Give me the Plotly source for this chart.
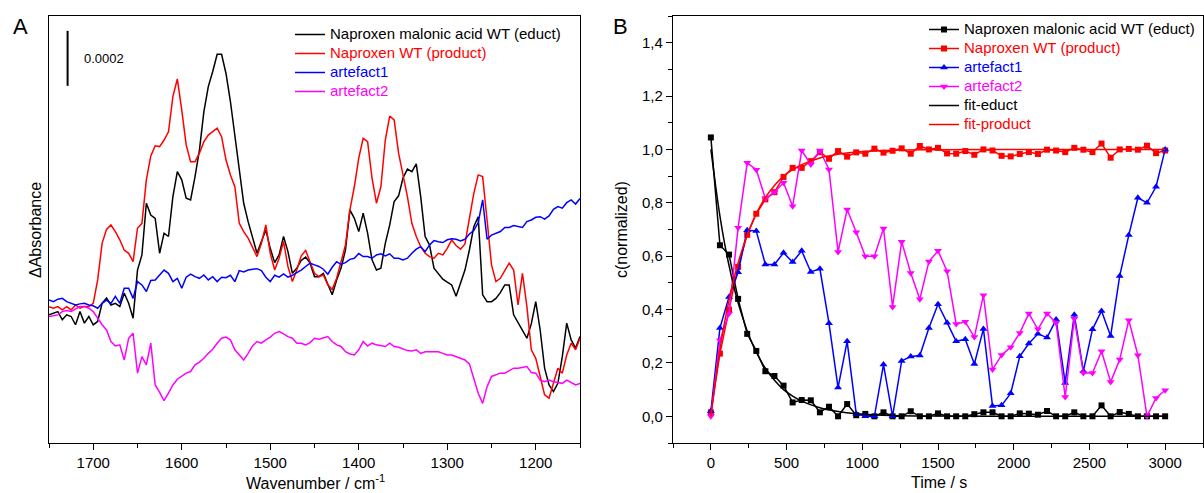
import plotly.graph_objects as go

W, H = 1204, 493
FONT = "Liberation Sans, Arial, sans-serif"

# ---------------- Panel A: difference spectra (units of 1e-4 absorbance) ----------------
wavenumber = [
    1750, 1745, 1740, 1735, 1730, 1725, 1720, 1715, 1710, 1705,
    1700, 1695, 1690, 1685, 1680, 1675, 1670, 1665, 1660, 1655,
    1650, 1645, 1640, 1635, 1630, 1625, 1620, 1615, 1610, 1605,
    1600, 1595, 1590, 1585, 1580, 1575, 1570, 1565, 1560, 1555,
    1550, 1545, 1540, 1535, 1530, 1525, 1520, 1515, 1510, 1505,
    1500, 1495, 1490, 1485, 1480, 1475, 1470, 1465, 1460, 1455,
    1450, 1445, 1440, 1435, 1430, 1425, 1420, 1415, 1410, 1405,
    1400, 1395, 1390, 1385, 1380, 1375, 1370, 1365, 1360, 1355,
    1350, 1345, 1340, 1335, 1330, 1325, 1320, 1315, 1310, 1305,
    1300, 1295, 1290, 1285, 1280, 1275, 1270, 1265, 1260, 1255,
    1250, 1245, 1240, 1235, 1230, 1225, 1220, 1215, 1210, 1205,
    1200, 1195, 1190, 1185, 1180, 1175, 1170, 1165, 1160, 1155,
    1150,
]

educt_spec = [
    -0.18, -0.12, -0.06, -0.36, -0.18, -0.24, -0.54, -0.06, -0.48, -0.24,
    -0.54, -0.42, 0.24, 0.43, 0.18, 0.24, 0.12, 0.61, 0.24, -0.3,
    1.45, 2.0, 3.88, 3.45, 3.33, 2.06, 2.79, 2.67, 4.12, 5.03,
    4.73, 4.06, 4.0, 4.85, 5.82, 7.21, 8.12, 8.67, 9.3, 9.3,
    8.6, 7.58, 6.3, 4.97, 3.88, 3.21, 2.67, 2.06, 2.49, 2.91,
    2.24, 1.72, 2.0, 2.67, 2.12, 1.33, 1.52, 1.8, 1.92, 1.7,
    1.21, 1.21, 1.33, 0.91, 0.55, 1.09, 1.52, 2.18, 3.64, 3.33,
    2.85, 3.52, 2.79, 1.82, 1.45, 1.52, 2.42, 3.09, 3.94, 4.15,
    4.8, 5.12, 5.03, 5.31, 4.12, 2.67, 2.36, 1.52, 1.33, 1.12,
    1.01, 0.91, 0.5, 0.97, 1.45, 2.18, 3.03, 3.39, 0.55, 0.3,
    0.3, 0.42, 0.63, 0.91, 0.91, -0.18, -0.46, -0.7, -1.03, -0.5,
    0.3, -0.73, -2.12, -2.73, -2.97, -2.67, -1.7, -0.48, -1.09, -1.39,
    -0.97,
]

product_spec = [
    0.12, 0.06, 0.12, 0.0, 0.12, 0.0, 0.18, 0.06, 0.12, 0.12,
    0.24, 1.09, 2.42, 2.93, 3.09, 2.85, 2.55, 2.18, 2.06, 1.76,
    2.97, 3.15, 4.73, 5.6, 5.97, 5.94, 6.18, 6.48, 7.76, 8.4,
    7.27, 6.0, 5.39, 5.39, 5.7, 6.12, 6.36, 6.48, 6.61, 6.3,
    5.45, 4.91, 4.48, 3.15, 2.85, 2.61, 2.3, 1.94, 2.42, 3.09,
    2.06, 1.45, 1.88, 2.49, 1.58, 1.03, 1.45, 1.97, 2.16, 1.76,
    1.33, 1.21, 1.27, 0.91, 0.75, 1.15, 1.76, 2.36, 3.64, 4.48,
    5.52, 6.24, 6.12, 4.79, 3.88, 4.48, 6.18, 7.05, 6.91, 5.7,
    4.91, 4.12, 3.15, 2.67, 2.3, 2.06, 1.94, 1.88, 2.06, 2.0,
    2.24, 2.55, 2.34, 2.21, 2.4, 3.27, 4.24, 4.91, 4.85, 3.27,
    1.64, 1.03, 1.15, 1.43, 1.7, 1.45, 0.18, 1.33, 0.12, -1.45,
    -1.76, -2.42, -3.09, -3.21, -2.67, -2.12, -2.3, -1.64, -1.21, -1.45,
    -1.03,
]

artefact1_spec = [
    0.36, 0.3, 0.39, 0.42, 0.3, 0.24, 0.18, 0.22, 0.24, 0.18,
    0.15, 0.06, 0.24, 0.36, 0.24, 0.49, 0.24, 0.79, 0.79, 0.42,
    1.03, 0.91, 0.67, 1.07, 1.09, 1.27, 1.45, 1.33, 1.03, 1.15,
    0.79, 1.19, 1.3, 1.21, 1.15, 1.27, 1.09, 1.21, 1.03, 1.19,
    1.17, 1.26, 1.03, 1.43, 1.38, 1.45, 1.48, 1.5, 1.43, 1.19,
    1.03, 1.26, 1.19, 1.31, 1.19, 1.26, 1.36, 1.45, 1.58, 1.7,
    1.64, 1.58, 1.48, 1.3, 1.55, 1.75, 1.66, 1.72, 1.84, 1.88,
    2.05, 1.94, 1.94, 1.88, 2.0, 2.04, 1.96, 2.04, 1.88, 1.88,
    1.82, 1.88, 2.06, 2.21, 2.3, 2.12, 2.36, 2.52, 2.48, 2.45,
    2.55, 2.59, 2.57, 2.51, 2.57, 2.76, 2.89, 3.18, 4.0, 2.57,
    2.72, 2.79, 2.85, 3.0, 3.0, 3.07, 3.03, 3.0, 3.21, 3.27,
    3.37, 3.39, 3.3, 3.42, 3.66, 3.76, 3.7, 3.9, 4.0, 3.85,
    4.05,
]

artefact2_spec = [
    -0.24, -0.22, -0.18, -0.06, -0.02, -0.06, 0.02, 0.12, 0.12, 0.06,
    -0.06, -0.3, -0.54, -0.73, -1.15, -1.31, -1.27, -1.82, -1.03, -0.85,
    -2.3, -1.7, -2.0, -1.21, -2.73, -3.0, -3.3, -3.03, -2.73, -2.52,
    -2.42, -2.3, -2.24, -2.0, -1.9, -1.76, -1.58, -1.43, -1.21, -1.03,
    -0.99, -1.09, -1.45, -1.64, -1.82, -1.58, -1.31, -1.15, -1.21, -1.09,
    -0.99, -0.85, -0.79, -0.87, -0.97, -1.03, -1.21, -1.21, -1.27, -1.19,
    -1.03, -1.07, -1.03, -0.97, -1.15, -1.27, -1.33, -1.52, -1.6, -1.64,
    -1.45, -1.15, -1.31, -1.21, -1.27, -1.31, -1.33, -1.21, -1.33, -1.36,
    -1.43, -1.48, -1.49, -1.45, -1.58, -1.52, -1.52, -1.52, -1.52, -1.58,
    -1.64, -1.64, -1.7, -1.76, -1.82, -1.96, -2.48, -3.03, -3.4, -2.79,
    -2.42, -2.36, -2.3, -2.3, -2.2, -2.12, -2.12, -2.08, -2.06, -2.28,
    -2.3, -2.55, -2.61, -2.55, -2.61, -2.64, -2.67, -2.55, -2.64, -2.73,
    -2.67,
]
SPEC_UNIT = 1e-4
SCALE_BAR = 0.0002

# ---------------- Panel B: kinetics ----------------
time_s = [
    0, 60, 120, 180, 240, 300, 360, 420, 480, 540,
    600, 660, 720, 780, 840, 900, 960, 1020, 1080, 1140,
    1200, 1260, 1320, 1380, 1440, 1500, 1560, 1620, 1680, 1740,
    1800, 1860, 1920, 1980, 2040, 2100, 2160, 2220, 2280, 2340,
    2400, 2460, 2520, 2580, 2640, 2700, 2760, 2820, 2880, 2940,
    3000,
]
educt_c = [
    1.045, 0.641, 0.606, 0.44, 0.309, 0.245, 0.169, 0.151, 0.115, 0.052,
    0.061, 0.06, 0.015, 0.036, 0.0, 0.046, 0.004, 0.009, 0.0, 0.015,
    0.0, 0.0, 0.019, 0.0, 0.0, 0.011, 0.0, 0.0, 0.0, 0.008,
    0.015, 0.015, 0.0, 0.0, 0.011, 0.01, 0.006, 0.02, 0.0, 0.0,
    0.015, 0.0, 0.0, 0.041, 0.0, 0.016, 0.009, 0.0, 0.0, 0.0,
    0.0,
]
product_c = [
    0.015, 0.235, 0.40, 0.56, 0.68, 0.759, 0.813, 0.84, 0.897, 0.931,
    0.931, 0.956, 0.99, 0.965, 0.994, 0.973, 0.989, 0.984, 1.003, 0.988,
    0.995, 1.004, 0.984, 1.013, 1.0, 1.006, 0.985, 0.984, 0.994, 0.98,
    1.0, 0.996, 0.976, 0.974, 0.983, 0.99, 0.983, 0.999, 0.996, 0.99,
    1.006, 0.999, 0.99, 1.022, 0.969, 1.0, 1.002, 0.999, 1.014, 0.986,
    0.996,
]
artefact1_c = [
    0.019, 0.331, 0.4475, 0.54, 0.6975, 0.694, 0.569, 0.569, 0.6125, 0.578,
    0.62, 0.541, 0.5525, 0.349, 0.1075, 0.281, 0.01, 0.0, 0.0, 0.194,
    0.0, 0.2075, 0.224, 0.2275, 0.331, 0.42, 0.351, 0.281, 0.289, 0.196,
    0.3275, 0.039, 0.041, 0.086, 0.225, 0.2725, 0.309, 0.295, 0.3625, 0.125,
    0.381, 0.169, 0.326, 0.395, 0.301, 0.526, 0.679, 0.819, 0.80, 0.86,
    1.0,
]
artefact2_c = [
    0.0, 0.285, 0.385, 0.707, 0.95, 0.924, 0.816, 0.84, 0.875, 0.787,
    0.996, 0.944, 0.996, 0.925, 0.616, 0.775, 0.69, 0.60, 0.60, 0.704,
    0.41, 0.654, 0.537, 0.439, 0.58, 0.62, 0.544, 0.346, 0.354, 0.297,
    0.454, 0.175, 0.23, 0.259, 0.3125, 0.385, 0.326, 0.385, 0.35, 0.072,
    0.366, 0.162, 0.162, 0.244, 0.129, 0.2125, 0.36, 0.229, 0.0, 0.069,
    0.0975,
]
fit_time = [0, 30, 60, 90, 120, 150, 180, 210, 240, 300, 360, 420, 480, 540,
            600, 720, 840, 960, 1200, 1500, 2000, 2500, 3000]
fit_educt = [1.0, 0.87, 0.75, 0.65, 0.565, 0.49, 0.425, 0.37, 0.32, 0.24, 0.18,
             0.135, 0.10, 0.076, 0.057, 0.032, 0.018, 0.010, 0.003, 0.001,
             0.0, 0.0, 0.0]
fit_product = [0.0, 0.13, 0.25, 0.35, 0.435, 0.51, 0.575, 0.63, 0.68, 0.76, 0.82,
               0.865, 0.90, 0.924, 0.943, 0.968, 0.982, 0.99, 0.997, 0.999,
               1.0, 1.0, 1.0]

BLACK, RED, BLUE, MAGENTA = "#000000", "#ff0000", "#0000ff", "#ff00ff"


def lab(text, color):
    return f'<span style="color:{color};font-size:15px">{text}</span>'


fig = go.Figure()

spectra = [
    ("Naproxen malonic acid WT (educt)", educt_spec, BLACK),
    ("Naproxen WT (product)", product_spec, RED),
    ("artefact1", artefact1_spec, BLUE),
    ("artefact2", artefact2_spec, MAGENTA),
]
for name, vals, color in spectra:
    fig.add_trace(go.Scatter(
        x=wavenumber, y=[v * SPEC_UNIT for v in vals], mode="lines",
        line=dict(color=color, width=1.5), name=lab(name, color),
        xaxis="x", yaxis="y", legend="legend"))

kin = [
    ("Naproxen malonic acid WT (educt)", educt_c, BLACK, "square", 6),
    ("Naproxen WT (product)", product_c, RED, "square", 6),
    ("artefact1", artefact1_c, BLUE, "triangle-up", 7),
    ("artefact2", artefact2_c, MAGENTA, "triangle-down", 7),
]
for name, vals, color, sym, sz in kin:
    fig.add_trace(go.Scatter(
        x=time_s, y=vals, mode="lines+markers",
        line=dict(color=color, width=1.5),
        marker=dict(symbol=sym, size=sz, color=color, line=dict(width=0)),
        name=lab(name, color), xaxis="x2", yaxis="y2", legend="legend2"))

for name, vals, color in [("fit-educt", fit_educt, BLACK), ("fit-product", fit_product, RED)]:
    fig.add_trace(go.Scatter(
        x=fit_time, y=vals, mode="lines", line=dict(color=color, width=1.5, shape="spline"),
        name=lab(name, color), xaxis="x2", yaxis="y2", legend="legend2"))

ydom = [1 - 443 / H, 1 - 16 / H]
axis_common = dict(showline=True, mirror=True, linecolor="black", linewidth=1.3,
                   showgrid=False, zeroline=False,
                   tickfont=dict(family=FONT, size=15, color="black"))

fig.update_layout(
    width=W, height=H, autosize=False,
    margin=dict(l=0, r=0, t=0, b=0),
    paper_bgcolor="white", plot_bgcolor="white",
    separators=", ",
    font=dict(family=FONT, size=14, color="black"),
    xaxis=dict(domain=[49 / W, 580 / W], range=[1750, 1150], anchor="y",
               ticks="outside", ticklen=6, tickwidth=1.3, tickcolor="black",
               tickmode="linear", tick0=1200, dtick=100,
               minor=dict(ticks="outside", ticklen=3.5, tickwidth=1.3, tickcolor="black",
                          tick0=1150, dtick=50),
               **axis_common),
    yaxis=dict(domain=ydom, range=[-4.84e-4, 10.69e-4], anchor="x",
               showticklabels=False, ticks="", **axis_common),
    xaxis2=dict(domain=[673 / W, 1203 / W], range=[-250, 3250], anchor="y2",
                ticks="outside", ticklen=6, tickwidth=1.3, tickcolor="black",
                tickmode="linear", tick0=0, dtick=500,
                minor=dict(ticks="outside", ticklen=3.5, tickwidth=1.3, tickcolor="black",
                           tick0=-250, dtick=250),
                **axis_common),
    yaxis2=dict(domain=ydom, range=[-0.1, 1.5], anchor="x2",
                ticks="outside", ticklen=6, tickwidth=1.3, tickcolor="black",
                tickmode="linear", tick0=0, dtick=0.2, tickformat=".1f",
                minor=dict(ticks="outside", ticklen=3.5, tickwidth=1.3, tickcolor="black",
                           tick0=-0.1, dtick=0.1),
                **axis_common),
    legend=dict(x=290 / W, y=1 - 20 / H, xanchor="left", yanchor="top",
                bgcolor="rgba(0,0,0,0)", borderwidth=0, tracegroupgap=0,
                font=dict(family=FONT, size=12)),
    legend2=dict(x=924 / W, y=1 - 15 / H, xanchor="left", yanchor="top",
                 bgcolor="rgba(0,0,0,0)", borderwidth=0, tracegroupgap=0,
                 font=dict(family=FONT, size=12)),
    showlegend=True,
)

# scale bar in panel A
bar_x = 1729
bar_top = 10.15 * SPEC_UNIT
fig.add_shape(type="line", xref="x", yref="y", x0=bar_x, x1=bar_x,
              y0=bar_top - SCALE_BAR, y1=bar_top, line=dict(color="black", width=2))
fig.add_annotation(x=1713, y=bar_top - SCALE_BAR / 2, xref="x", yref="y",
                   text=f"{SCALE_BAR:.4f}", showarrow=False, xanchor="left",
                   font=dict(family=FONT, size=13, color="black"))

ann = [
    dict(text="A", x=20 / W, y=1 - 26 / H, size=22, angle=0),
    dict(text="B", x=620 / W, y=1 - 26 / H, size=22, angle=0),
    dict(text="\u0394Absorbance", x=36 / W, y=1 - 230 / H, size=16, angle=-90),
    dict(text="Wavenumber / cm<sup>-1</sup>", x=315 / W, y=1 - 482 / H, size=16, angle=0),
    dict(text="c(normalized)", x=622 / W, y=1 - 230 / H, size=16, angle=-90),
    dict(text="Time / s", x=939 / W, y=1 - 482 / H, size=16, angle=0),
]
for a in ann:
    fig.add_annotation(text=a["text"], x=a["x"], y=a["y"], xref="paper", yref="paper",
                       showarrow=False, xanchor="center", yanchor="middle",
                       textangle=a["angle"], font=dict(family=FONT, size=a["size"], color="black"))

fig.write_html("out.html", config={"displayModeBar": False},
               post_script="document.body.style.margin='0';document.body.style.padding='0';"
                           "document.body.style.overflow='hidden';")
